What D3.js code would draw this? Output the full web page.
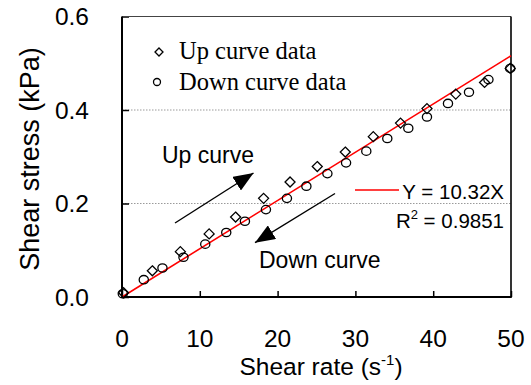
<!DOCTYPE html>
<html>
<head>
<meta charset="utf-8">
<script src="https://cdn.jsdelivr.net/npm/d3@7"></script>
<style>
  html, body { margin: 0; padding: 0; background: #fff; }
  svg { display: block; }
</style>
</head>
<body>
<svg id="chart" width="531" height="385"></svg>
<script>
// ---- Data ----
const upX = [0.2, 3.9, 7.5, 11.2, 14.6, 18.2, 21.6, 25.1, 28.7, 32.3, 35.8, 39.2, 42.9, 46.6, 49.9];
const upY = [0.009, 0.056, 0.097, 0.135, 0.171, 0.211, 0.246, 0.279, 0.310, 0.343, 0.372, 0.403, 0.434, 0.459, 0.489];
const downX = [0.1, 2.8, 5.2, 7.9, 10.7, 13.4, 15.8, 18.5, 21.2, 23.7, 26.4, 28.8, 31.4, 34.1, 36.8, 39.2, 41.9, 44.6, 47.1, 49.9];
const downY = [0.007, 0.037, 0.062, 0.085, 0.113, 0.138, 0.162, 0.187, 0.211, 0.237, 0.264, 0.287, 0.312, 0.339, 0.361, 0.385, 0.414, 0.438, 0.465, 0.489];
const fitSlope = 0.01032;          // Y = 10.32X (Pa) -> kPa per s^-1
const fitX = [0, 50];
const xTicks = [0, 10, 20, 30, 40, 50];
const yTicks = [0.0, 0.2, 0.4, 0.6];
const gridY = [0.2, 0.4];
const legendLabels = ["Up curve data", "Down curve data"];
const fitLabel = "Y = 10.32X";
const r2Label = "0.9851";

// ---- Layout ----
const svg = d3.select("#chart");
const L = 122, R = 511, T = 16.5, B = 297;
const x = d3.scaleLinear().domain([0, 50]).range([L, R]);
const y = d3.scaleLinear().domain([0, 0.6]).range([B, T]);
const sans = "'Liberation Sans', Arial, sans-serif";
const serif = "'Liberation Serif', 'Times New Roman', serif";

// gridlines
svg.append("g").selectAll("line").data(gridY).join("line")
  .attr("x1", L).attr("x2", R)
  .attr("y1", d => y(d)).attr("y2", d => y(d))
  .attr("stroke", "#9a9a9a").attr("stroke-width", 1)
  .attr("stroke-dasharray", "1.5,1.5");

// axes (ticks inside)
const xAxis = d3.axisBottom(x).tickValues(xTicks).tickSize(-6).tickFormat("");
const yAxis = d3.axisLeft(y).tickValues(yTicks).tickSize(-7).tickFormat("");
const gx = svg.append("g").attr("transform", `translate(0,${B})`).call(xAxis);
const gy = svg.append("g").attr("transform", `translate(${L},0)`).call(yAxis);
[gx, gy].forEach(g => {
  g.select(".domain").remove();
  g.selectAll(".tick line").attr("stroke", "#000").attr("stroke-width", 1.5);
});

// frame
svg.append("line").attr("x1", L).attr("x2", R).attr("y1", T).attr("y2", T)
  .attr("stroke", "#444").attr("stroke-width", 1.2);
svg.append("line").attr("x1", R).attr("x2", R).attr("y1", T).attr("y2", B)
  .attr("stroke", "#000").attr("stroke-width", 1.6);
svg.append("line").attr("x1", L).attr("x2", L).attr("y1", T).attr("y2", B + 1)
  .attr("stroke", "#000").attr("stroke-width", 2);
svg.append("line").attr("x1", L - 1).attr("x2", R + 0.8).attr("y1", B).attr("y2", B)
  .attr("stroke", "#000").attr("stroke-width", 2);

// tick labels
svg.append("g").selectAll("text").data(xTicks).join("text")
  .attr("x", d => x(d)).attr("y", 347)
  .attr("text-anchor", "middle")
  .attr("font-family", sans).attr("font-size", 24.5)
  .text(d => d);
svg.append("g").selectAll("text").data(yTicks).join("text")
  .attr("x", 89).attr("y", d => y(d) + 8.5)
  .attr("text-anchor", "end")
  .attr("font-family", sans).attr("font-size", 24.5)
  .text(d => d3.format(".1f")(d));

// axis titles
const xt = svg.append("text")
  .attr("x", 321).attr("y", 375)
  .attr("text-anchor", "middle")
  .attr("font-family", sans).attr("font-size", 24.5);
xt.append("tspan").text("Shear rate (s");
xt.append("tspan").attr("font-size", 15).attr("dy", -10).text("-1");
xt.append("tspan").attr("dy", 10).text(")");

svg.append("text")
  .attr("transform", "translate(39,159) rotate(-90)")
  .attr("text-anchor", "middle")
  .attr("font-family", sans).attr("font-size", 27)
  .text("Shear stress (kPa)");

// fit line
svg.append("line")
  .attr("x1", x(fitX[0])).attr("y1", y(fitSlope * fitX[0]))
  .attr("x2", x(fitX[1])).attr("y2", y(fitSlope * fitX[1]))
  .attr("stroke", "#f00").attr("stroke-width", 1.6);

// markers
const diamond = (cx, cy, s) => `M${cx},${cy - s}L${cx + s},${cy}L${cx},${cy + s}L${cx - s},${cy}Z`;
const upData = upX.map((v, i) => [v, upY[i]]);
const downData = downX.map((v, i) => [v, downY[i]]);
svg.append("g").selectAll("path").data(upData).join("path")
  .attr("d", d => diamond(x(d[0]), y(d[1]), 5))
  .attr("fill", "none").attr("stroke", "#000").attr("stroke-width", 1.3);
svg.append("g").selectAll("ellipse").data(downData).join("ellipse")
  .attr("cx", d => x(d[0])).attr("cy", d => y(d[1]))
  .attr("rx", 4.6).attr("ry", 4.2)
  .attr("fill", "none").attr("stroke", "#000").attr("stroke-width", 1.3);

// legend
svg.append("path").attr("d", diamond(159, 52, 4))
  .attr("fill", "none").attr("stroke", "#000").attr("stroke-width", 1.3);
svg.append("circle").attr("cx", 157).attr("cy", 82).attr("r", 3.5)
  .attr("fill", "none").attr("stroke", "#000").attr("stroke-width", 1.3);
svg.append("g").selectAll("text").data(legendLabels).join("text")
  .attr("x", 179).attr("y", (d, i) => 59 + i * 31)
  .attr("font-family", serif).attr("font-size", 24.5)
  .text(d => d);

// annotations with arrows
const defs = svg.append("defs");
defs.append("marker").attr("id", "ah")
  .attr("viewBox", "0 0 20 16").attr("refX", 20).attr("refY", 8)
  .attr("markerWidth", 20).attr("markerHeight", 16)
  .attr("markerUnits", "userSpaceOnUse").attr("orient", "auto")
  .append("path").attr("d", "M0,0L20,8L0,16Z").attr("fill", "#000");

svg.append("line").attr("x1", 175).attr("y1", 223).attr("x2", 253.5).attr("y2", 173)
  .attr("stroke", "#000").attr("stroke-width", 1.4).attr("marker-end", "url(#ah)");
svg.append("line").attr("x1", 335).attr("y1", 193.5).attr("x2", 255).attr("y2", 242.7)
  .attr("stroke", "#000").attr("stroke-width", 1.4).attr("marker-end", "url(#ah)");

svg.append("text").attr("x", 162).attr("y", 163)
  .attr("font-family", sans).attr("font-size", 23)
  .text("Up curve");
svg.append("text").attr("x", 259).attr("y", 267.5)
  .attr("font-family", sans).attr("font-size", 23)
  .text("Down curve");

// fit legend
svg.append("line").attr("x1", 355).attr("x2", 399).attr("y1", 190).attr("y2", 190)
  .attr("stroke", "#f00").attr("stroke-width", 1.6);
svg.append("text").attr("x", 504).attr("y", 198.5)
  .attr("text-anchor", "end")
  .attr("font-family", sans).attr("font-size", 20.5)
  .text(fitLabel);
const r2 = svg.append("text").attr("x", 504).attr("y", 227.5)
  .attr("text-anchor", "end")
  .attr("font-family", sans).attr("font-size", 20.5);
r2.append("tspan").text("R");
r2.append("tspan").attr("font-size", 13).attr("dy", -9).text("2");
r2.append("tspan").attr("dy", 9).text(" = " + r2Label);
</script>
</body>
</html>
